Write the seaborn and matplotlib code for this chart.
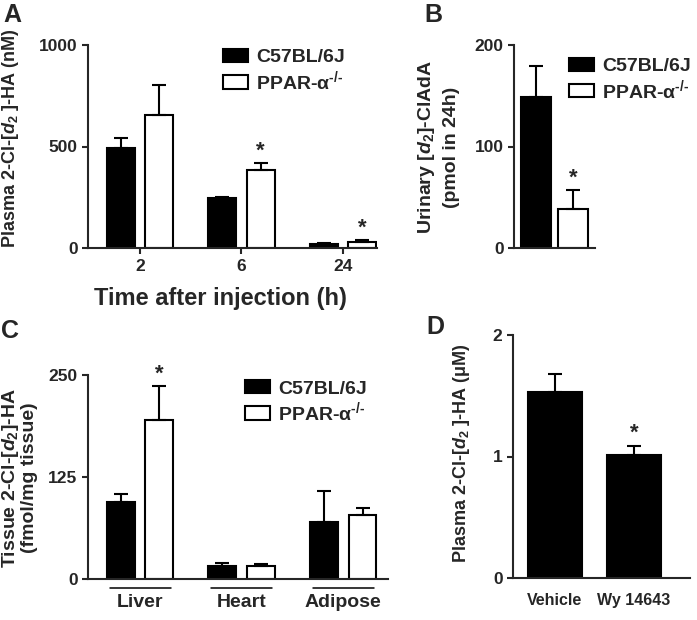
import numpy as np
import pandas as pd
import matplotlib
matplotlib.use('Agg')
import matplotlib.pyplot as plt
import seaborn as sns

# Valores
tiempos = ['2', '6', '24']
plasma_c57 = [495, 248, 20]
plasma_c57_err = [45, 3, 3]
plasma_ppar = [655, 385, 32]
plasma_ppar_err = [150, 34, 6]
plasma_sig = [False, True, True]

cepas = ['C57BL/6J', r'PPAR-$\mathrm{\alpha}^{\text{-/-}}$']
orina = [149, 38]
orina_err = [30, 19]
orina_sig = [False, True]

tejidos = ['Liver', 'Heart', 'Adipose']
tejido_c57 = [94, 16, 70]
tejido_c57_err = [10, 4, 38]
tejido_ppar = [195, 16, 78]
tejido_ppar_err = [41, 2, 9]
tejido_sig = [True, False, False]

tratamientos = ['Vehicle', 'Wy 14643']
plasma_wy = [1.53, 1.01]
plasma_wy_err = [0.15, 0.08]
plasma_wy_sig = [False, True]

colores = {cepas[0]: 'black', cepas[1]: 'white'}

# Estilo
sns.set_style('ticks')
plt.rcParams['font.family'] = ['Liberation Sans', 'DejaVu Sans']
plt.rcParams['font.weight'] = 'bold'
plt.rcParams['axes.labelweight'] = 'bold'
plt.rcParams['mathtext.fontset'] = 'custom'
plt.rcParams['mathtext.rm'] = 'Liberation Sans:bold'
plt.rcParams['mathtext.it'] = 'Liberation Sans:italic:bold'
plt.rcParams['mathtext.bf'] = 'Liberation Sans:bold'
plt.rcParams['axes.linewidth'] = 1.5
plt.rcParams['xtick.major.width'] = 1.5
plt.rcParams['ytick.major.width'] = 1.5
plt.rcParams['xtick.major.size'] = 4.5
plt.rcParams['ytick.major.size'] = 4.5
plt.rcParams['xtick.labelsize'] = 12.5
plt.rcParams['ytick.labelsize'] = 12.5
plt.rcParams['ytick.major.pad'] = 3

W, H = 697, 620
fig = plt.figure(figsize=(W / 100, H / 100), dpi=100)


def caja(x0, x1, y0, y1):
    # pixeles -> fraccion de figura
    return [x0 / W, 1 - y1 / H, (x1 - x0) / W, (y1 - y0) / H]


def px(x, y):
    return x / W, 1 - y / H


def negrita(ax):
    for t in ax.get_xticklabels() + ax.get_yticklabels():
        t.set_fontweight('bold')


def errores(ax, barras, errs, sigs):
    xs = [p.get_x() + p.get_width() / 2 for p in barras]
    ys = [p.get_height() for p in barras]
    ax.errorbar(xs, ys, yerr=[np.zeros(len(errs)), errs], fmt='none',
                ecolor='black', elinewidth=1.5, capsize=5, capthick=1.5, zorder=3)
    for x, y, e, s in zip(xs, ys, errs, sigs):
        if s:
            ax.annotate('*', xy=(x, y + e), xytext=(0, 1), textcoords='offset points',
                        ha='center', va='bottom', fontsize=16, fontweight='bold')


def grupos(ax, cats, v1, e1, v2, e2, sig2):
    n = len(cats)
    df = pd.DataFrame({'cat': cats * 2,
                       'cepa': [cepas[0]] * n + [cepas[1]] * n,
                       'valor': v1 + v2})
    sns.barplot(data=df, x='cat', y='valor', hue='cepa', palette=colores,
                width=0.76, gap=0.28, edgecolor='black', linewidth=1.5,
                saturation=1, errorbar=None, legend=False, ax=ax)
    barras = list(ax.containers)
    errores(ax, barras[0], e1, [False] * n)
    errores(ax, barras[1], e2, sig2)
    return barras


def leyenda(ax, barras, pos):
    ax.legend(barras, cepas, loc='upper left', bbox_to_anchor=pos, frameon=False,
              fontsize=14, handlelength=1.3, handleheight=0.67, handletextpad=0.4,
              labelspacing=0.12, borderpad=0, borderaxespad=0)


# --- A ---
axA = fig.add_axes(caja(88, 377, 45, 248))
barras = grupos(axA, tiempos, plasma_c57, plasma_c57_err, plasma_ppar, plasma_ppar_err, plasma_sig)
axA.set_ylim(0, 1000)
axA.set_yticks([0, 500, 1000])
axA.set_xlim(-0.512, 2.335)
axA.set_xlabel('Time after injection (h)', fontsize=17)
axA.xaxis.set_label_coords(0.457, -0.19)
axA.set_ylabel('')
leyenda(axA, barras, (0.467, 0.98))
sns.despine(ax=axA)
negrita(axA)

# --- B ---
axB = fig.add_axes(caja(514, 595, 45, 248))
dfB = pd.DataFrame({'cepa': cepas, 'valor': orina})
sns.barplot(data=dfB, x='cepa', y='valor', hue='cepa', palette=colores, width=0.8,
            edgecolor='black', linewidth=1.5, saturation=1, errorbar=None,
            legend=False, ax=axB)
barrasB = list(axB.containers)
for b, e, s in zip(barrasB, orina_err, orina_sig):
    errores(axB, b, [e], [s])
axB.set_ylim(0, 200)
axB.set_yticks([0, 100, 200])
axB.set_xlim(-0.595, 1.595)
axB.set_xticks([])
axB.set_xlabel('')
axB.set_ylabel('')
leyenda(axB, barrasB, (0.68, 0.936))
sns.despine(ax=axB)
negrita(axB)

# --- C ---
axC = fig.add_axes(caja(88, 388, 375, 579))
barras = grupos(axC, tejidos, tejido_c57, tejido_c57_err, tejido_ppar, tejido_ppar_err, tejido_sig)
axC.set_ylim(0, 250)
axC.set_yticks([0, 125, 250])
axC.set_xlim(-0.512, 2.44)
axC.tick_params(axis='x', length=0, pad=11, labelsize=14)
axC.set_xlabel('')
axC.set_ylabel('')
for i in range(len(tejidos)):
    axC.plot([i - 0.3, i + 0.3], [-0.044, -0.044], color='black', lw=1.1,
             transform=axC.get_xaxis_transform(), clip_on=False)
leyenda(axC, barras, (0.523, 0.975))
sns.despine(ax=axC)
negrita(axC)

# --- D ---
axD = fig.add_axes(caja(513, 690, 335, 578))
dfD = pd.DataFrame({'trat': tratamientos, 'valor': plasma_wy})
sns.barplot(data=dfD, x='trat', y='valor', color='black', width=0.68,
            edgecolor='black', linewidth=1.5, saturation=1, errorbar=None, ax=axD)
errores(axD, axD.containers[0], plasma_wy_err, plasma_wy_sig)
axD.set_ylim(0, 2)
axD.set_yticks([0, 1, 2])
axD.set_xlim(-0.53, 1.71)
axD.tick_params(axis='x', length=0, pad=11, labelsize=11.5)
axD.set_xlabel('')
axD.set_ylabel('')
sns.despine(ax=axD)
negrita(axD)

# Etiquetas de eje y letras de panel
fig.text(*px(11, 138), r'Plasma 2-Cl-[$d_2$ ]-HA (nM)', rotation=90,
         ha='center', va='center', fontsize=13, fontweight='bold')
fig.text(*px(438, 147), 'Urinary [$d_2$]-ClAdA\n(pmol in 24h)', rotation=90,
         ha='center', va='center', fontsize=14, fontweight='bold', linespacing=1.4)
fig.text(*px(19, 478), 'Tissue 2-Cl-[$d_2$]-HA\n(fmol/mg tissue)', rotation=90,
         ha='center', va='center', fontsize=14, fontweight='bold', linespacing=1.05)
fig.text(*px(461, 453), 'Plasma 2-Cl-[$d_2$ ]-HA (\u03bcM)', rotation=90,
         ha='center', va='center', fontsize=13, fontweight='bold')

for letra, (x, y) in zip('ABCD', [(12, 15), (433, 15), (10, 331), (435, 327)]):
    fig.text(*px(x, y), letra, ha='center', va='center', fontsize=18, fontweight='bold')

fig.savefig('out.png', dpi=100)
